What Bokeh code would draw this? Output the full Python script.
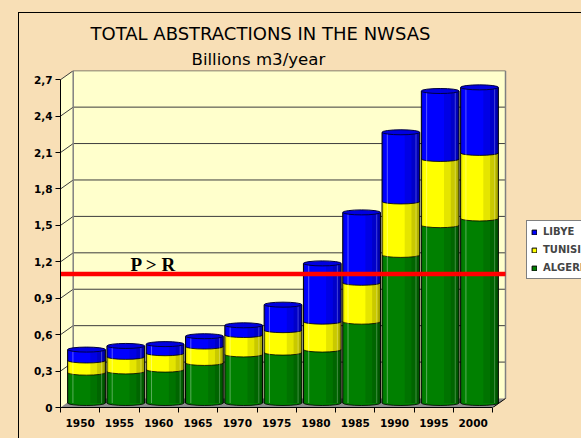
import numpy as np
from bokeh.plotting import figure
from bokeh.models import FixedTicker, Title, Legend, LegendItem, Label
from bokeh.embed import file_html
from bokeh.resources import INLINE

# ---------------- data ----------------
years = ["1950", "1955", "1960", "1965", "1970", "1975", "1980", "1985", "1990", "1995", "2000"]
algerie = [0.25, 0.26, 0.275, 0.33, 0.40, 0.415, 0.44, 0.67, 1.22, 1.465, 1.52]
tunisie = [0.10, 0.12, 0.135, 0.135, 0.16, 0.185, 0.23, 0.32, 0.44, 0.545, 0.54]
libye = [0.09, 0.09, 0.075, 0.085, 0.08, 0.21, 0.48, 0.58, 0.57, 0.56, 0.54]
series_names = ["ALGERIE", "TUNISIE", "LIBYE"]
y_ticks = [0, 0.3, 0.6, 0.9, 1.2, 1.5, 1.8, 2.1, 2.4, 2.7]
y_tick_labels = ["0", "0,3", "0,6", "0,9", "1,2", "1,5", "1,8", "2,1", "2,4", "2,7"]
threshold = 1.1
threshold_label = "P > R"
title_text = "TOTAL ABSTRACTIONS IN THE NWSAS"
subtitle_text = "Billions m3/year"

# ---------------- style / layout ----------------
WHEAT = "#F8DFB6"
LIGHT = "#FFFFCC"
colors = ["#008000", "#FFFF00", "#0000FF"]
PX_X = 39.3      # pixels per category
PX_Y = 121.4     # pixels per unit
W, H = 581, 438
BL, BT, BB = 60, 70, 31
frame_w = W - BL
frame_h = H - BT - BB
n = len(years)
dx = 12.7 / PX_X         # 3D depth (x)
dy = 9.0 / PX_Y          # 3D depth (y)
top = y_ticks[-1]
x_end = frame_w / PX_X
y_end = frame_h / PX_Y

p = figure(width=W, height=H, x_range=(0, x_end), y_range=(0, y_end),
           output_backend="svg", toolbar_location=None,
           min_border_left=BL, min_border_right=0, min_border_top=BT, min_border_bottom=BB,
           background_fill_color=WHEAT, border_fill_color=WHEAT, outline_line_color=None)
p.xgrid.visible = False
p.ygrid.visible = False

# titles (the one added with add_layout sits closer to the plot)
p.title.text = title_text
p.title.text_font = "DejaVu Sans"
p.title.text_font_size = "18px"
p.title.text_font_style = "normal"
p.title.text_color = "#000000"
p.title.align = "left"
p.title.offset = 30
p.title.standoff = 4
p.add_layout(Title(text=subtitle_text, text_font="DejaVu Sans", text_font_size="16.6px",
                   text_font_style="normal", text_color="#000000", align="left",
                   offset=131, standoff=4), "above")

# 3D walls
p.quad(left=dx, right=n + dx, bottom=dy, top=top + dy, fill_color=LIGHT, line_color=None)
p.patch(x=[0, dx, dx, 0], y=[0, dy, top + dy, top], fill_color=LIGHT, line_color=None)
p.patch(x=[0, n, n + dx, dx], y=[0, 0, dy, dy], fill_color="#8C8C8C", line_color=None)
gt = np.array(y_ticks[1:], dtype=float)
p.segment(x0=np.full(len(gt), dx), y0=gt + dy, x1=np.full(len(gt), n + dx), y1=gt + dy,
          line_color="#3C3C3C", line_width=1)
p.segment(x0=np.zeros(len(gt)), y0=gt, x1=np.full(len(gt), dx), y1=gt + dy,
          line_color="#3C3C3C", line_width=1)
p.segment(x0=[dx, n + dx], y0=[dy, dy], x1=[dx, n + dx], y1=[top + dy, top + dy],
          line_color="#808080", line_width=1.5)
p.segment(x0=[n], y0=[0], x1=[n + dx], y1=[dy], line_color="#000000", line_width=1)

# cylinders
xb = np.arange(n) + 0.5 + dx / 2
bw = 0.96
base = dy / 2
cap_h = 5
vals = [np.array(algerie), np.array(tunisie), np.array(libye)]
bottom = np.full(n, base)
legend_r = {}
for name, v, c in zip(series_names, vals, colors):
    t = bottom + v
    p.ellipse(x=xb, y=bottom, width=bw, height=cap_h, height_units="screen",
              fill_color=c, line_color="#000000", line_width=0.8)
    p.vbar(x=xb, bottom=bottom, top=t, width=bw, fill_color=c, line_color=None)
    lr = p.vbar(x=xb, bottom=bottom, top=t, width=bw, fill_color=c, line_color="#000000")
    lr.visible = False
    legend_r[name] = lr
    bottom = t
total = bottom

# shading strips for the cylinder look
for f0, f1, a in [(0.60, 1.0, 0.10), (0.78, 1.0, 0.12), (0.93, 1.0, 0.14), (0.0, 0.05, 0.10)]:
    cx = xb - bw / 2 + bw * (f0 + f1) / 2
    p.vbar(x=cx, bottom=np.full(n, base), top=total, width=bw * (f1 - f0),
           fill_color="#000000", fill_alpha=a, line_color=None)
for fx, la in [(0.14, 0.35), (0.90, 0.25)]:
    hx = xb - bw / 2 + bw * fx
    p.segment(x0=hx, y0=np.full(n, base), x1=hx, y1=total, line_color="#FFFFFF", line_alpha=la, line_width=1)
p.segment(x0=xb - bw / 2, y0=np.full(n, base), x1=xb - bw / 2, y1=total, line_color="#000000", line_width=1)
p.segment(x0=xb + bw / 2, y0=np.full(n, base), x1=xb + bw / 2, y1=total, line_color="#000000", line_width=1)
p.ellipse(x=xb, y=total, width=bw, height=cap_h, height_units="screen",
          fill_color="#0000E0", line_color="#000040", line_width=1)

# threshold line
p.segment(x0=[0], y0=[threshold], x1=[n + dx], y1=[threshold], line_color="#FF0000", line_width=4.5)
p.add_layout(Label(x=0, y=threshold, x_offset=70, y_offset=9.6, text=threshold_label,
                   text_font="Liberation Serif", text_font_size="19px", text_font_style="bold",
                   text_color="#000000", text_baseline="alphabetic"))

# axes
centers = np.arange(n) + 0.5
p.xaxis.ticker = FixedTicker(ticks=list(centers), minor_ticks=list(range(n + 1)))
p.xaxis.major_label_overrides = {float(cc): yr for cc, yr in zip(centers, years)}
p.xaxis.bounds = (0, n)
p.xaxis.major_tick_out = 5
p.xaxis.major_tick_in = 0
p.xaxis.minor_tick_line_color = "#000000"
p.xaxis.minor_tick_out = 5
p.xaxis.minor_tick_in = 0
p.xaxis.major_label_standoff = 6
p.yaxis.ticker = FixedTicker(ticks=y_ticks)
p.yaxis.major_label_overrides = {float(t): lab for t, lab in zip(y_ticks, y_tick_labels)}
p.yaxis.bounds = (0, top)
p.yaxis.major_tick_out = 5
p.yaxis.major_tick_in = 0
p.yaxis.minor_tick_line_color = None
p.yaxis.major_label_standoff = 3
for ax in (p.xaxis[0], p.yaxis[0]):
    ax.axis_line_color = "#000000"
    ax.major_tick_line_color = "#000000" if ax is p.yaxis[0] else None
    ax.major_label_text_font = "DejaVu Sans"
    ax.major_label_text_font_style = "bold"
    ax.major_label_text_font_size = "10.5px"
    ax.major_label_text_color = "#000000"

# legend
legend = Legend(items=[LegendItem(label=nm, renderers=[legend_r[nm]]) for nm in ["LIBYE", "TUNISIE", "ALGERIE"]],
                location=(466, 128), border_line_color="#000000", border_line_width=1,
                background_fill_color="#FFFFFF", background_fill_alpha=1.0,
                label_text_font="DejaVu Sans", label_text_font_style="bold", label_text_font_size="10px",
                glyph_width=6, glyph_height=6, label_standoff=6, padding=4, spacing=5,
                label_height=13, margin=0)
p.add_layout(legend)

html = file_html(p, INLINE)
css = ("<style>html,body{background:%s;overflow:hidden}"
       "body::before{content:'';position:absolute;left:18px;top:12px;width:800px;height:800px;"
       "border-left:1.5px solid #000;border-top:1.5px solid #000;z-index:10;pointer-events:none}</style>") % WHEAT
html = html.replace("</head>", css + "</head>", 1)
open("out.html", "w").write(html)
